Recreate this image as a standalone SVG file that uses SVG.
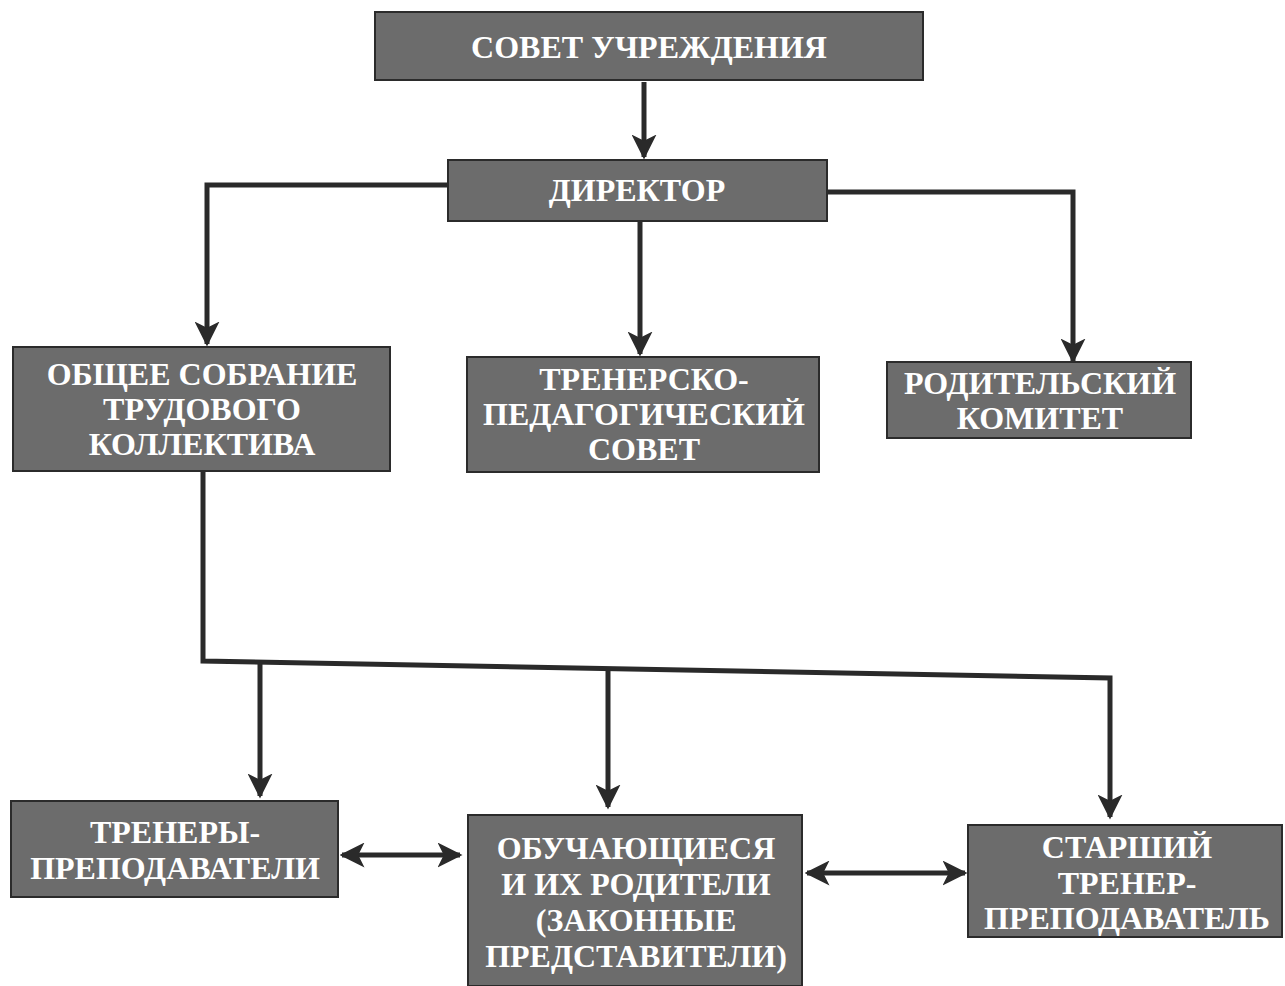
<svg xmlns="http://www.w3.org/2000/svg" width="1285" height="986" viewBox="0 0 1285 986">
<style>
.box{fill:#6c6c6c;stroke:#2b2b2b;stroke-width:2}
.t{font-family:"Liberation Serif","DejaVu Serif","Noto Serif",serif;font-weight:bold;font-size:32px;fill:#ffffff;text-anchor:middle}
.c{fill:none;stroke:#2a2a2a;stroke-width:5;stroke-linejoin:miter}
</style>
<defs>
<marker id="ah" viewBox="0 0 20 20" refX="18" refY="10" markerWidth="5" markerHeight="5" markerUnits="strokeWidth" orient="auto-start-reverse">
<path d="M0,0 L20,10 L0,20 L5,10 Z" fill="#2a2a2a"/>
</marker>
</defs>
<rect width="1285" height="986" fill="#ffffff"/>
<g id="connectors">
<path class="c" d="M644,82 V157" marker-end="url(#ah)"/>
<path class="c" d="M448,185 H207 V344" marker-end="url(#ah)"/>
<path class="c" d="M640,222 V354" marker-end="url(#ah)"/>
<path class="c" d="M828,192 H1073 V361" marker-end="url(#ah)"/>
<path class="c" d="M203,472 V661 L1110,678 V817" marker-end="url(#ah)"/>
<path class="c" d="M260,662 V796" marker-end="url(#ah)"/>
<path class="c" d="M608,671 V807" marker-end="url(#ah)"/>
<path class="c" d="M342,855 H460" marker-start="url(#ah)" marker-end="url(#ah)"/>
<path class="c" d="M807,873 H965" marker-start="url(#ah)" marker-end="url(#ah)"/>
</g>
<g id="sovet">
<rect class="box" x="375" y="12" width="548" height="68"/>
<text class="t" x="649" y="58">СОВЕТ УЧРЕЖДЕНИЯ</text>
</g>
<g id="direktor">
<rect class="box" x="448" y="160" width="379" height="61"/>
<text class="t" x="637" y="201">ДИРЕКТОР</text>
</g>
<g id="obshchee">
<rect class="box" x="13" y="347" width="377" height="124"/>
<text class="t" x="202" y="385">ОБЩЕЕ СОБРАНИЕ</text>
<text class="t" x="202" y="420">ТРУДОВОГО</text>
<text class="t" x="202" y="455">КОЛЛЕКТИВА</text>
</g>
<g id="trenersko">
<rect class="box" x="467" y="357" width="352" height="115"/>
<text class="t" x="644" y="390">ТРЕНЕРСКО-</text>
<text class="t" x="644" y="425">ПЕДАГОГИЧЕСКИЙ</text>
<text class="t" x="644" y="460">СОВЕТ</text>
</g>
<g id="roditelskiy">
<rect class="box" x="887" y="362" width="304" height="76"/>
<text class="t" x="1040" y="394">РОДИТЕЛЬСКИЙ</text>
<text class="t" x="1040" y="429">КОМИТЕТ</text>
</g>
<g id="trenery">
<rect class="box" x="11" y="801" width="327" height="96"/>
<text class="t" x="175" y="843">ТРЕНЕРЫ-</text>
<text class="t" x="175" y="879">ПРЕПОДАВАТЕЛИ</text>
</g>
<g id="obuchayushchiesya">
<rect class="box" x="468" y="815" width="334" height="171"/>
<text class="t" x="636" y="859">ОБУЧАЮЩИЕСЯ</text>
<text class="t" x="636" y="895">И ИХ РОДИТЕЛИ</text>
<text class="t" x="636" y="931">(ЗАКОННЫЕ</text>
<text class="t" x="636" y="967">ПРЕДСТАВИТЕЛИ)</text>
</g>
<g id="starshiy">
<rect class="box" x="968" y="825" width="314" height="112"/>
<text class="t" x="1127" y="858">СТАРШИЙ</text>
<text class="t" x="1127" y="894">ТРЕНЕР-</text>
<text class="t" x="1127" y="929">ПРЕПОДАВАТЕЛЬ</text>
</g>
</svg>
